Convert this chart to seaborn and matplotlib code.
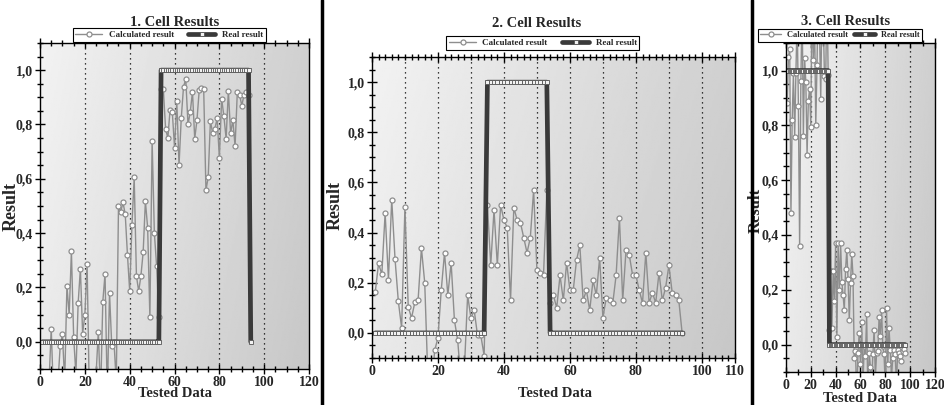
import matplotlib
matplotlib.use('Agg')
import matplotlib.pyplot as plt
import seaborn as sns
import numpy as np
from matplotlib.lines import Line2D
from matplotlib.ticker import MultipleLocator

sns.set_style('ticks')
plt.rcParams['font.family'] = ['Liberation Serif', 'DejaVu Serif']
plt.rcParams['font.weight'] = 'bold'

# Panel 1
calc1 = [-0.20, -0.15, -0.25, -0.15, 0.048, -0.20, -0.30, -0.15, -0.015, 0.028,
         -0.15, 0.207, 0.10, 0.333, 0.017, -0.12, 0.142, 0.269, 0.03, 0.10,
         0.286, -0.20, -0.15, -0.20, -0.12, 0.038, -0.20, 0.148, 0.25, -0.20,
         0.18, -0.016, 0.0, -0.15, 0.50, 0.478, 0.513, 0.47, 0.32, 0.186,
         0.43, 0.605, 0.243, 0.186, 0.243, 0.33, 0.518, 0.42, 0.09, 0.74,
         0.40, 0.28, 0.09, 0.93, 0.93, 0.785, 0.75, 0.853, 0.846, 0.714,
         0.886, 0.65, 0.824, 0.938, 0.967, 0.80, 0.846, 0.92, 0.748, 0.816,
         0.926, 0.935, 0.93, 0.558, 0.605, 0.813, 0.767, 0.785, 0.822, 0.677,
         0.895, 0.831, 0.748, 0.924, 0.767, 0.816, 0.72, 0.92, 0.91, 0.869,
         0.91, 0.92, 0.91]
real1 = [0, 0, 0, 0, 0, 0, 0, 0, 0, 0,
         0, 0, 0, 0, 0, 0, 0, 0, 0, 0,
         0, 0, 0, 0, 0, 0, 0, 0, 0, 0,
         0, 0, 0, 0, 0, 0, 0, 0, 0, 0,
         0, 0, 0, 0, 0, 0, 0, 0, 0, 0,
         0, 0, 0, 1, 1, 1, 1, 1, 1, 1,
         1, 1, 1, 1, 1, 1, 1, 1, 1, 1,
         1, 1, 1, 1, 1, 1, 1, 1, 1, 1,
         1, 1, 1, 1, 1, 1, 1, 1, 1, 1,
         1, 1, 1, 0]

# Panel 2
calc2 = [0.162, 0.277, 0.234, 0.479, 0.213, 0.532, 0.295, 0.126, 0.02, 0.503,
         0.104, 0.06, 0.122, 0.133, 0.338, 0.20, -0.20, -0.25, -0.07, -0.02,
         0.17, 0.32, 0.15, 0.28, 0.05, -0.03, -0.20, -0.15, 0.15, 0.06,
         0.09, -0.01, -0.01, -0.09, 0.51, 0.27, 0.49, 0.27, 0.51, 0.45,
         0.42, 0.13, 0.50, 0.45, 0.44, 0.38, 0.32, 0.38, 0.57, 0.25,
         0.24, 0.23, 0.57, 0.12, 0.15, 0.10, 0.23, 0.13, 0.28, 0.17,
         0.17, 0.29, 0.35, 0.13, 0.17, 0.09, 0.21, 0.15, 0.30, 0.06,
         0.14, 0.13, 0.12, 0.23, 0.46, 0.13, 0.33, 0.31, 0.23, 0.23,
         0.17, 0.12, 0.32, 0.12, 0.16, 0.12, 0.24, 0.13, 0.18, 0.27,
         0.16, 0.15, 0.13, 0.0]
real2 = [0, 0, 0, 0, 0, 0, 0, 0, 0, 0,
         0, 0, 0, 0, 0, 0, 0, 0, 0, 0,
         0, 0, 0, 0, 0, 0, 0, 0, 0, 0,
         0, 0, 0, 0, 1, 1, 1, 1, 1, 1,
         1, 1, 1, 1, 1, 1, 1, 1, 1, 1,
         1, 1, 1, 0, 0, 0, 0, 0, 0, 0,
         0, 0, 0, 0, 0, 0, 0, 0, 0, 0,
         0, 0, 0, 0, 0, 0, 0, 0, 0, 0,
         0, 0, 0, 0, 0, 0, 0, 0, 0, 0,
         0, 0, 0, 0]

# Panel 3
calc3 = [0.88, 1.05, 1.08, 0.48, 0.82, 0.99, 0.757, 0.99, 1.20, 0.872,
         0.36, 0.96, 1.25, 0.76, 1.046, 0.957, 0.693, 0.888, 0.933, 0.793,
         1.30, 1.04, 1.20, 0.80, 1.02, 1.30, 1.15, 0.897, 1.25, 1.20,
         0.98, 0.97, 1.30, 0.985, 0.055, 0.27, 0.06, 0.27, 0.16, 0.37,
         0.028, 0.37, 0.20, 0.37, 0.23, 0.18, 0.125, 0.276, 0.345, 0.24,
         0.09, 0.225, 0.33, 0.25, -0.05, -0.024, -0.20, -0.03, 0.043, -0.07,
         0.082, -0.15, -0.006, -0.04, 0.11, -0.20, -0.03, -0.08, -0.15, -0.036,
         0.055, -0.12, -0.03, -0.024, 0.10, 0.033, 0.125, -0.006, -0.036, -0.15,
         0.134, -0.07, 0.06, -0.018, -0.12, -0.05, -0.02, -0.036, -0.15, -0.018,
         -0.03, -0.043, -0.06, -0.024, -0.015, -0.03]
real3 = [1, 1, 1, 1, 1, 1, 1, 1, 1, 1,
         1, 1, 1, 1, 1, 1, 1, 1, 1, 1,
         1, 1, 1, 1, 1, 1, 1, 1, 1, 1,
         1, 1, 1, 1, 0, 0, 0, 0, 0, 0,
         0, 0, 0, 0, 0, 0, 0, 0, 0, 0,
         0, 0, 0, 0, 0, 0, 0, 0, 0, 0,
         0, 0, 0, 0, 0, 0, 0, 0, 0, 0,
         0, 0, 0, 0, 0, 0, 0, 0, 0, 0,
         0, 0, 0, 0, 0, 0, 0, 0, 0, 0,
         0, 0, 0, 0, 0, 0]

titles = ['1. Cell Results', '2. Cell Results', '3. Cell Results']
yticks = [0.0, 0.2, 0.4, 0.6, 0.8, 1.0]
ytick_labels = ['0,0', '0,2', '0,4', '0,6', '0,8', '1,0']

calc_color = '#8e8e8e'
real_color = '#3a3a3a'

fig = plt.figure(figsize=(9.44, 4.05), dpi=100)

panels = [
    dict(pos=[0.0424, 0.0889, 0.285, 0.805], calc=calc1, real=real1, xmax=120,
         xticks=[0, 20, 40, 60, 80, 100, 120], grid=[20, 40, 60, 80, 100], minor=5,
         title_xy=(0.50, 1.052), leg=(0.48, 1.0245), colsp=1.6, hl=3.0, lfs=6.5,
         ylab=(-0.074, 0.497), ylfs=13, xlab=(0.50, -0.056)),
    dict(pos=[0.394, 0.116, 0.3845, 0.743], calc=calc2, real=real2, xmax=110,
         xticks=[0, 20, 40, 60, 80, 100, 110], grid=[10, 20, 30, 40, 50, 60, 70, 80, 90, 100],
         minor=2, title_xy=(0.455, 1.10), leg=(0.471, 1.048), colsp=1.6, hl=3.0, lfs=6.5,
         ylab=(-0.077, 0.508), ylfs=13, xlab=(0.504, -0.096)),
    dict(pos=[0.8326, 0.0815, 0.1578, 0.812], calc=calc3, real=real3, xmax=120,
         xticks=[0, 20, 40, 60, 80, 100, 120], grid=[20, 40, 60, 80, 100], minor=10,
         title_xy=(0.40, 1.056), leg=(0.362, 1.024), colsp=0.8, hl=2.5, lfs=6,
         ylab=(-0.148, 0.49), ylfs=12, xlab=(0.497, -0.062)),
]

# diagonal grey background like the original chart control
u, v = np.meshgrid(np.linspace(0, 1, 200), np.linspace(1, 0, 200))
shade = 0.95 - 0.17 * (0.8 * u + 0.2 * (1 - v))

for p, title in zip(panels, titles):
    ax = fig.add_axes(p['pos'])
    ax.imshow(shade, cmap='gray', vmin=0, vmax=1, extent=(0, 1, 0, 1),
              transform=ax.transAxes, aspect='auto', zorder=0)
    x_calc = list(range(1, len(p['calc']) + 1))
    x_real = list(range(1, len(p['real']) + 1))
    sns.lineplot(x=x_calc, y=p['calc'], ax=ax, color=calc_color, lw=1.0,
                 marker='o', ms=3.6, mfc='white', mec=calc_color, mew=0.9,
                 estimator=None, sort=False, label='Calculated result', zorder=3)
    sns.lineplot(x=x_real, y=p['real'], ax=ax, color=real_color, lw=3.4,
                 marker='s', ms=3.2, mfc='#f2f2f2', mec='#555555', mew=0.6,
                 estimator=None, sort=False, label='Real result', zorder=4)
    ax.set_xlim(0, p['xmax'])
    ax.set_ylim(-0.1, 1.1)
    ax.set_xticks(p['xticks'])
    ax.set_xticklabels([str(t) for t in p['xticks']])
    ax.set_yticks(yticks)
    ax.set_yticklabels(ytick_labels)
    ax.xaxis.set_minor_locator(MultipleLocator(p['minor']))
    ax.yaxis.set_minor_locator(MultipleLocator(0.05))
    ax.tick_params(which='both', direction='inout', top=True, labelsize=10,
                   width=1, color='black', pad=1.5)
    ax.tick_params(which='major', length=7)
    ax.tick_params(which='minor', length=4)
    for g in p['grid']:
        ax.axvline(g, color='black', lw=0.9, ls=(0, (1, 3)), zorder=1)
    for s in ax.spines.values():
        s.set_color('black')
        s.set_linewidth(1)
        s.set_zorder(5)
    for lab in ax.get_xticklabels() + ax.get_yticklabels():
        lab.set_fontweight('bold')
    ax.set_xlabel('Tested Data', fontsize=10.5, fontweight='bold')
    ax.set_ylabel('Result', fontsize=p['ylfs'], fontweight='bold')
    ax.xaxis.set_label_coords(*p['xlab'])
    ax.yaxis.set_label_coords(*p['ylab'])
    ax.text(p['title_xy'][0], p['title_xy'][1], title, transform=ax.transAxes,
            ha='center', va='baseline', fontsize=10.5, fontweight='bold')
    leg = ax.legend(loc='center', bbox_to_anchor=p['leg'], ncol=2,
                    fancybox=False, edgecolor='black', framealpha=1, facecolor='white',
                    prop={'size': p['lfs'], 'weight': 'bold'}, borderpad=0.3,
                    handlelength=p['hl'], handletextpad=0.7, borderaxespad=0,
                    columnspacing=p['colsp'])
    leg.get_frame().set_linewidth(0.8)

# black separators between the panels
for xf in [322 / 944, 752 / 944]:
    fig.add_artist(Line2D([xf, xf], [0, 1], transform=fig.transFigure,
                          color='black', lw=2.5))

fig.savefig('out.png', dpi=100)
